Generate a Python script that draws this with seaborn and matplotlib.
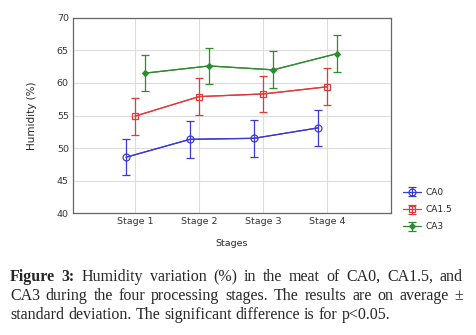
import numpy as np
import pandas as pd
import matplotlib
matplotlib.use("Agg")
import matplotlib.pyplot as plt
import seaborn as sns

stages = ["Stage 1", "Stage 2", "Stage 3", "Stage 4"]
series = ["CA0", "CA1.5", "CA3"]
ca0 = [48.6, 51.35, 51.5, 53.1]
ca15 = [54.9, 57.9, 58.3, 59.4]
ca3 = [61.5, 62.6, 62.0, 64.5]
sd_ca0 = [2.8, 2.8, 2.8, 2.8]
sd_ca15 = [2.85, 2.8, 2.8, 2.85]
sd_ca3 = [2.8, 2.8, 2.85, 2.8]
yticks = [40, 45, 50, 55, 60, 65, 70]
caption_lines = [
    "Figure 3: Humidity variation (%) in the meat of CA0, CA1.5, and",
    "CA3 during the four processing stages. The results are on average \u00b1",
    "standard deviation. The significant difference is for p<0.05.",
]

means = {"CA0": ca0, "CA1.5": ca15, "CA3": ca3}
sds = {"CA0": sd_ca0, "CA1.5": sd_ca15, "CA3": sd_ca3}
colors = {"CA0": "#3a3acc", "CA1.5": "#e03a3a", "CA3": "#2e8b2e"}
markers = {"CA0": "o", "CA1.5": "s", "CA3": "D"}
msize = {"CA0": 5, "CA1.5": 5, "CA3": 3}
filled = {"CA0": False, "CA1.5": False, "CA3": True}
offsets = {"CA0": -0.14, "CA1.5": 0.0, "CA3": 0.16}

rows = []
for s in series:
    for i, st in enumerate(stages):
        rows.append({"series": s, "stage": st, "pos": i + offsets[s],
                     "value": means[s][i], "sd": sds[s][i]})
df = pd.DataFrame(rows)

sns.set_style("white")
plt.rcParams["font.family"] = ["DejaVu Sans"]

fig = plt.figure(figsize=(4.76, 3.35), dpi=100)
fig.patch.set_facecolor("white")
ax = fig.add_axes([73/476, 1 - 213.3/335, (391-73)/476, (213.3-17.7)/335])

handles = []
for s in series:
    d = df[df["series"] == s]
    sns.lineplot(data=d, x="pos", y="value", ax=ax, color=colors[s],
                 linewidth=0.9, legend=False, zorder=3)
    c = ax.errorbar(d["pos"], d["value"], yerr=d["sd"], fmt=markers[s],
                    color=colors[s], ecolor=colors[s], elinewidth=0.9,
                    capsize=3, capthick=0.9, markersize=msize[s],
                    markerfacecolor=(colors[s] if filled[s] else "none"),
                    markeredgewidth=0.9, linestyle="-", linewidth=0.9, label=s,
                    zorder=4)
    handles.append(c)

ax.set_xlim(-0.97, 4.0)
ax.set_ylim(40, 70)
ax.set_yticks(yticks)
ax.set_yticklabels([str(t) for t in yticks], fontsize=6.8, color="#333333")
ax.set_xticks(range(len(stages)))
ax.set_xticklabels(stages, fontsize=6.8, color="#333333")
ax.tick_params(axis="both", length=0, pad=3)
ax.grid(True, color="#dddddd", linewidth=0.8)
ax.set_axisbelow(True)
for sp in ax.spines.values():
    sp.set_color("#666666")
    sp.set_linewidth(0.9)
ax.set_xlabel("Stages", fontsize=6.8, labelpad=9)
ax.set_ylabel("Humidity (%)", fontsize=7.5, labelpad=14)

leg = fig.legend(handles, series, loc="upper left",
                 bbox_to_anchor=(395/476, 1 - 180/335), frameon=False,
                 fontsize=6.5, handlelength=2.0, labelspacing=0.9,
                 handletextpad=0.5)

# caption, justified like the reference
serif = ["Liberation Serif", "DejaVu Serif"]
fs = 11.5
x_left, x_right = 10, 463
ys = [277, 296, 315]
fig.canvas.draw()
renderer = fig.canvas.get_renderer()
for li, (line, ypx) in enumerate(zip(caption_lines, ys)):
    words = line.split(" ")
    y = 1 - ypx / 335
    texts = []
    for wi, w in enumerate(words):
        bold = li == 0 and wi < 2
        t = fig.text(0, y, w, fontsize=fs, family=serif, va="center", ha="left",
                     fontweight=("bold" if bold else "normal"))
        texts.append(t)
    widths = [t.get_window_extent(renderer).width for t in texts]
    if li < len(caption_lines) - 1:
        gap = (x_right - x_left - sum(widths)) / (len(words) - 1)
    else:
        gap = 4.0
    x = x_left
    for t, w in zip(texts, widths):
        t.set_x(x / 476)
        x += w + gap

fig.savefig("out.png", dpi=100, facecolor="white")
